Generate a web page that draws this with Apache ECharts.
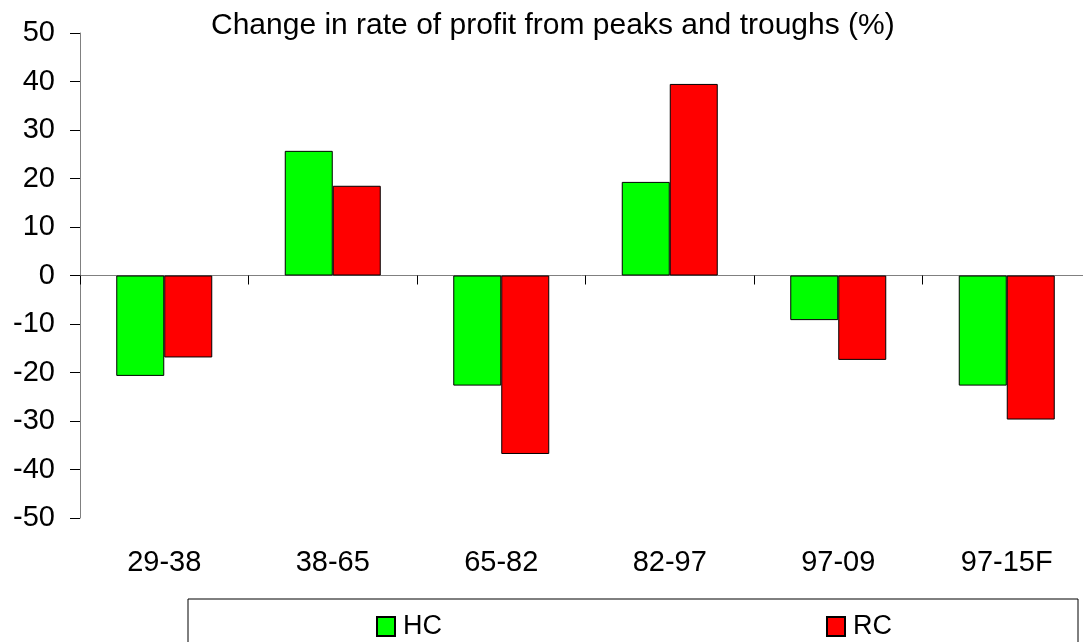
<!DOCTYPE html>
<html lang="en">
<head>
<meta charset="UTF-8">
<title>Change in rate of profit</title>
<style>
  * { margin: 0; padding: 0; }
  html, body { width: 100%; height: 100%; background: #fff; }
  #chart { width: 1083px; height: 642px; }
</style>
</head>
<body>
<div id="chart"></div>
<script src="https://cdn.jsdelivr.net/npm/echarts@6/dist/echarts.min.js"></script>
<script>
// periods (peak/trough to peak/trough)
var periods = ['29-38', '38-65', '65-82', '82-97', '97-09', '97-15F'];
// % change in rate of profit
var hcValues = [-20.7, 25.7, -22.7, 19.3, -9.2, -22.7];
var rcValues = [-16.9, 18.5, -36.8, 39.5, -17.4, -29.7];
var yTicks = { min: -50, max: 50, step: 10 };

var font = 'Liberation Sans, Arial, sans-serif';

var chart = echarts.init(document.getElementById('chart'));

chart.setOption({
  animation: false,
  backgroundColor: '#fff',
  title: {
    text: 'Change in rate of profit from peaks and troughs (%)',
    left: 211,
    top: 11,
    padding: 0,
    textStyle: { fontFamily: font, fontSize: 30, fontWeight: 'normal', color: '#000' }
  },
  // plot runs past the right edge of the picture, like the original
  grid: { left: 80, top: 33, bottom: 124, width: 1011, outerBoundsMode: 'none', containLabel: false },
  legend: {
    left: 376,
    top: 613,
    padding: 0,
    itemWidth: 18,
    itemHeight: 19,
    itemGap: 384,
    icon: 'rect',
    textStyle: { fontFamily: font, fontSize: 27, color: '#000', padding: [0, 0, 0, 3] },
    data: ['HC', 'RC']
  },
  graphic: [{
    type: 'rect',
    shape: { x: 188, y: 599, width: 890, height: 60 },
    style: { fill: 'none', stroke: '#000', lineWidth: 1 },
    silent: true
  }],
  xAxis: [{
    type: 'category',
    data: periods,
    position: 'bottom',
    axisLine: { show: false, onZero: false },
    axisTick: { show: false },
    axisLabel: { fontFamily: font, fontSize: 29, color: '#000', margin: 30 }
  }, {
    type: 'category',
    data: periods,
    position: 'bottom',
    axisLine: { show: true, onZero: true, lineStyle: { color: '#808080', width: 1 } },
    axisTick: { show: true, length: 9, lineStyle: { color: '#000' } },
    axisLabel: { show: false }
  }],
  yAxis: {
    type: 'value',
    min: yTicks.min,
    max: yTicks.max,
    interval: yTicks.step,
    splitLine: { show: false },
    axisLine: { show: true, lineStyle: { color: '#808080', width: 1 } },
    axisTick: { show: true, length: 10, lineStyle: { color: '#000' } },
    axisLabel: { fontFamily: font, fontSize: 29, color: '#000', margin: 25 }
  },
  series: [{
    name: 'HC',
    type: 'bar',
    xAxisIndex: 0,
    data: hcValues,
    barWidth: 48,
    barGap: '0%',
    itemStyle: { color: '#00ff00', borderColor: '#000', borderWidth: 1 }
  }, {
    name: 'RC',
    type: 'bar',
    xAxisIndex: 0,
    data: rcValues,
    barWidth: 48,
    barGap: '0%',
    itemStyle: { color: '#ff0000', borderColor: '#000', borderWidth: 1 }
  }]
});
</script>
</body>
</html>
